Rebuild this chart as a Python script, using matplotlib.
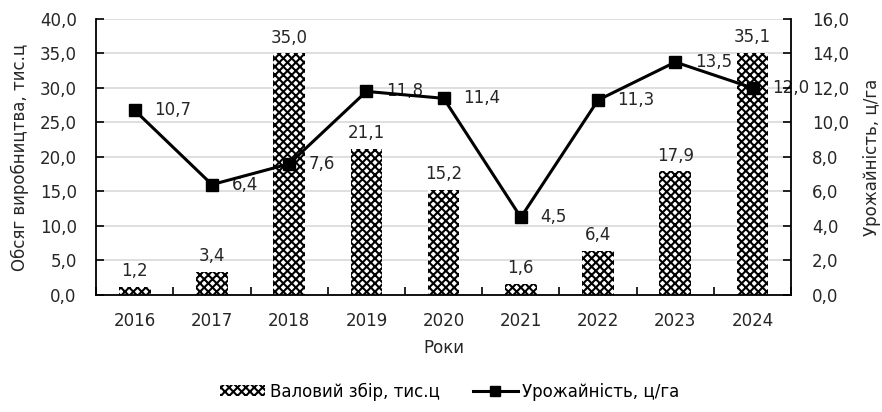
import matplotlib
matplotlib.use("Agg")
import matplotlib.pyplot as plt
import numpy as np
from matplotlib.lines import Line2D
from matplotlib.patches import Patch

years = ["2016", "2017", "2018", "2019", "2020", "2021", "2022", "2023", "2024"]
gross = [1.2, 3.4, 35.0, 21.1, 15.2, 1.6, 6.4, 17.9, 35.1]
yieldv = [10.7, 6.4, 7.6, 11.8, 11.4, 4.5, 11.3, 13.5, 12.0]
left_ticks = [0, 5, 10, 15, 20, 25, 30, 35, 40]
right_ticks = [0, 2, 4, 6, 8, 10, 12, 14, 16]

def fmt(v):
    return f"{v:.1f}".replace(".", ",")

plt.rcParams['font.family'] = ['DejaVu Sans']
plt.rcParams['hatch.linewidth'] = 1.5
FS = 12
TC = '#262626'

fig = plt.figure(figsize=(8.82, 4.12), dpi=100)
ax = fig.add_axes([0.109, 0.284, 0.788, 0.670])
x = np.arange(len(years))

bars = ax.bar(x, gross, width=0.41, facecolor='white', edgecolor='black',
              hatch='xxxx', linewidth=0, zorder=2)
for xi, v in zip(x, gross):
    ax.annotate(fmt(v), (xi, v), xytext=(0, 5), textcoords='offset points',
                ha='center', va='bottom', fontsize=FS, color=TC)

ax.set_ylim(0, 40)
ax.set_xlim(-0.5, len(years) - 0.5)
ax.set_yticks(left_ticks)
ax.set_yticklabels([fmt(t) for t in left_ticks], fontsize=FS, color=TC)
ax.set_xticks(x)
ax.set_xticklabels(years, fontsize=FS, color=TC)
ax.set_xticks(np.arange(-0.5, len(years), 1), minor=True)
ax.tick_params(axis='x', which='major', length=0, pad=12)
ax.tick_params(axis='x', which='minor', direction='in', length=6, width=1.2)
ax.tick_params(axis='y', direction='in', length=6, width=1.2, pad=14)
ax.grid(axis='y', color='#d9d9d9', linewidth=1.2, zorder=0)
ax.set_axisbelow(True)
for s in ['top', 'right']:
    ax.spines[s].set_visible(False)
ax.spines['left'].set_linewidth(1.3)
ax.spines['bottom'].set_linewidth(1.3)
ax.set_ylabel("Обсяг виробництва, тис.ц", fontsize=FS, color=TC, labelpad=8)
ax.set_xlabel("Роки", fontsize=FS, color=TC, labelpad=7)

ax2 = ax.twinx()
ax2.set_ylim(0, 16)
ax2.set_yticks(right_ticks)
ax2.set_yticklabels([fmt(t) for t in right_ticks], fontsize=FS, color=TC)
ax2.tick_params(axis='y', direction='in', length=6, width=1.2, pad=15)
for s in ['top', 'left', 'bottom']:
    ax2.spines[s].set_visible(False)
ax2.spines['right'].set_linewidth(1.3)
for xi, v in zip(x, yieldv):
    ax2.annotate(fmt(v), (xi, v), xytext=(14, 0), textcoords='offset points',
                 ha='left', va='center', fontsize=FS, color=TC, zorder=1)
ax2.plot(x, yieldv, color='black', linewidth=2.2, marker='s', markersize=8,
         zorder=3)
ax2.set_ylabel("Урожайність, ц/га", fontsize=FS, color=TC, labelpad=10)

handles = [Patch(facecolor='white', edgecolor='black', hatch='xxxx', linewidth=0),
           Line2D([0], [0], color='black', linewidth=2.2, marker='s', markersize=7)]
fig.legend(handles, ["Валовий збір, тис.ц", "Урожайність, ц/га"],
           loc='center', bbox_to_anchor=(0.51, 0.05), ncol=2, frameon=False,
           fontsize=FS, handlelength=2.7, handleheight=0.6, handletextpad=0.25,
           columnspacing=2.0)

fig.savefig("out.png", dpi=100)
